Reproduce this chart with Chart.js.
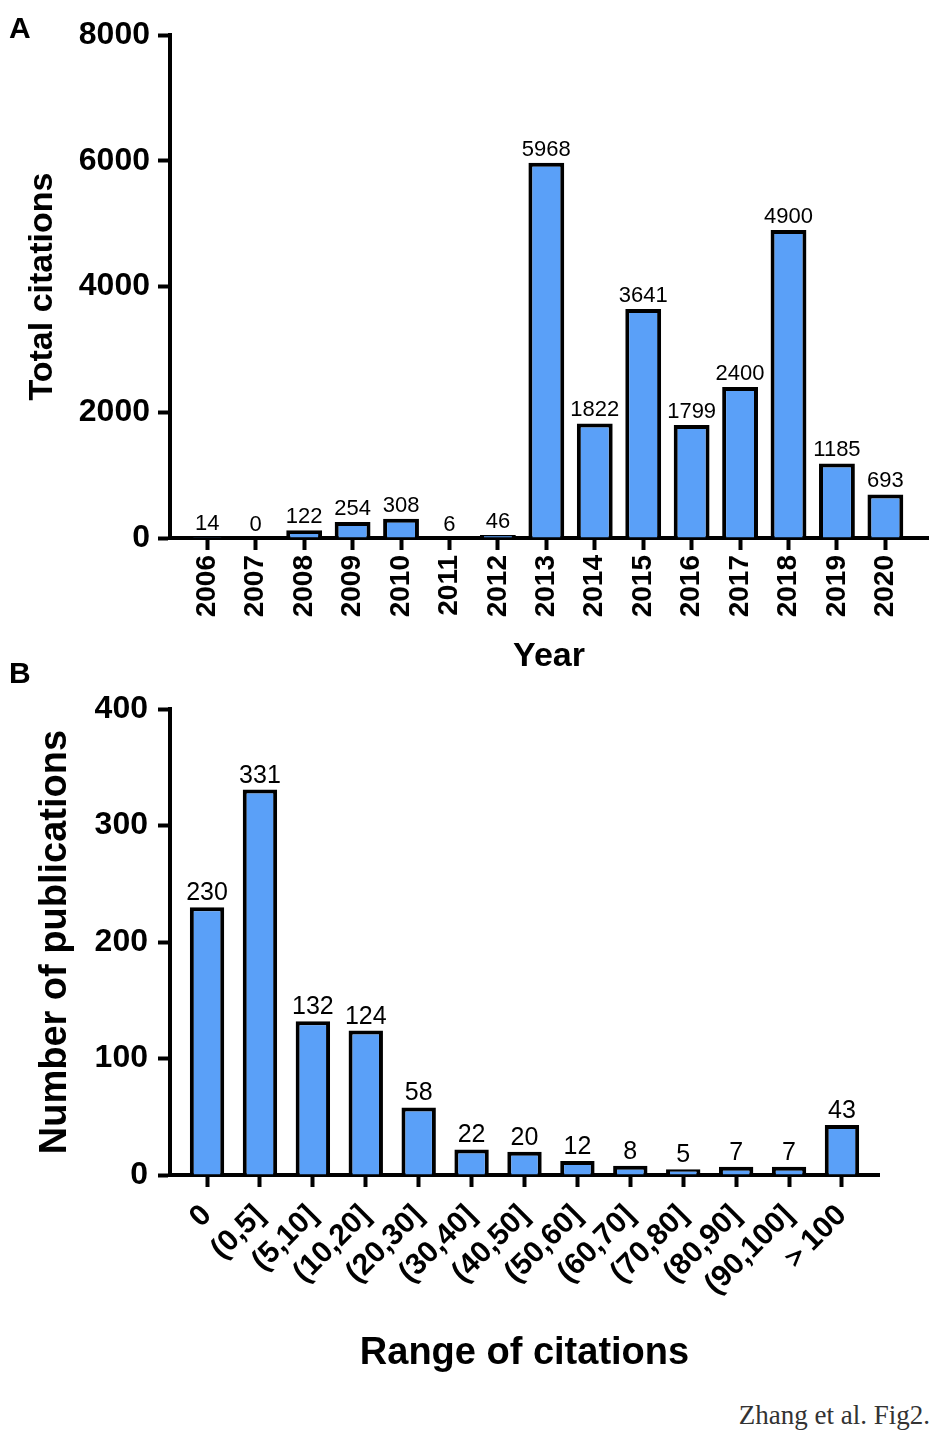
<!DOCTYPE html>
<html>
<head>
<meta charset="utf-8">
<script src="https://cdn.jsdelivr.net/npm/chart.js@4.4.1/dist/chart.umd.min.js"></script>
<style>
  body { margin: 0; background: #fff; }
  #pagina { position: relative; width: 945px; height: 1435px; overflow: hidden; font-family: 'Liberation Sans', Arial, sans-serif; }
  .painel { position: absolute; left: 0; width: 945px; }
  #caixaA { top: 0; height: 690px; }
  #caixaB { top: 680px; height: 700px; }
  .letra { position: absolute; left: 9px; font-weight: bold; font-size: 30px; line-height: 1; color: #000; }
  #rodape { position: absolute; right: 15px; top: 1402px; font-family: 'Liberation Serif', 'Times New Roman', serif; font-size: 27px; line-height: 1; color: #333; }
</style>
</head>
<body>
<div id="pagina">
  <div class="painel" id="caixaA"><canvas id="graficoCitacoesAno"></canvas></div>
  <div class="painel" id="caixaB"><canvas id="graficoFaixaCitacoes"></canvas></div>
  <div class="letra" style="top:13px">A</div>
  <div class="letra" style="top:658px">B</div>
  <div id="rodape">Zhang et al. Fig2.</div>
</div>
<script>
// DADOS
const anos = [2006, 2007, 2008, 2009, 2010, 2011, 2012, 2013, 2014, 2015, 2016, 2017, 2018, 2019, 2020];
const citacoesTotais = [14, 0, 122, 254, 308, 6, 46, 5968, 1822, 3641, 1799, 2400, 4900, 1185, 693];

const faixasCitacoes = ['0', '(0,5]', '(5,10]', '(10,20]', '(20,30]', '(30,40]', '(40,50]',
    '(50,60]', '(60,70]', '(70,80]', '(80,90]', '(90,100]', '＞100'];
const numeroPublicacoes = [230, 331, 132, 124, 58, 22, 20, 12, 8, 5, 7, 7, 43];

const ticksCitacoes = [0, 2000, 4000, 6000, 8000];
const ticksPublicacoes = [0, 100, 200, 300, 400];

// CONFIGURACOES GERAIS
const FONTE = "'Liberation Sans', Arial, sans-serif";
const AZUL = '#5AA0F8';
Chart.defaults.color = '#000';
Chart.defaults.font.family = FONTE;

// escreve o valor em cima de cada barra
const rotulosValores = {
    id: 'rotulosValores',
    afterDatasetsDraw(chart, args, opts) {
        const ctx = chart.ctx;
        const meta = chart.getDatasetMeta(0);
        const dados = chart.data.datasets[0].data;
        ctx.save();
        ctx.font = opts.fonte;
        ctx.fillStyle = '#000';
        ctx.textAlign = 'center';
        ctx.textBaseline = 'alphabetic';
        meta.data.forEach(function (barra, i) {
            ctx.fillText(String(dados[i].y), barra.x, barra.y - opts.distancia);
        });
        ctx.restore();
    }
};

function eixoPreto(extra) {
    return Object.assign({
        offset: false,
        border: { display: true, color: '#000', width: 4 },
        grid: { offset: false, drawOnChartArea: false, drawTicks: true, tickLength: 12, tickWidth: 4, tickColor: '#000' }
    }, extra);
}

// GRAFICO A
function montarGraficoCitacoesPorAno() {
    const ctx = document.getElementById('graficoCitacoesAno').getContext('2d');
    new Chart(ctx, {
        type: 'bar',
        data: {
            datasets: [{
                data: anos.map((a, i) => ({ x: a, y: citacoesTotais[i] })),
                backgroundColor: AZUL,
                borderColor: '#000',
                borderWidth: 4,
                borderSkipped: 'start',
                barPercentage: 0.74,
                categoryPercentage: 1
            }]
        },
        plugins: [rotulosValores],
        options: {
            responsive: true,
            maintainAspectRatio: false,
            animation: false,
            layout: { padding: { top: 35, right: 17, left: 0, bottom: 0 } },
            plugins: {
                legend: { display: false },
                tooltip: { enabled: false },
                rotulosValores: { fonte: '22px ' + FONTE, distancia: 7 }
            },
            scales: {
                x: eixoPreto({
                    type: 'linear',
                    min: anos[0] - 0.77,
                    max: anos[anos.length - 1] + 0.88,
                    afterBuildTicks: (s) => { s.ticks = anos.map(v => ({ value: v })); },
                    afterFit: (s) => { s.height = 152; },
                    ticks: {
                        autoSkip: false, minRotation: 90, maxRotation: 90, padding: 5,
                        font: { size: 28, weight: 'bold' },
                        callback: (v) => String(v)
                    },
                    title: { display: true, text: 'Year', font: { size: 34, weight: 'bold' }, padding: { top: 0, bottom: 13 } }
                }),
                y: eixoPreto({
                    min: 0,
                    max: 8000,
                    afterBuildTicks: (s) => { s.ticks = ticksCitacoes.map(v => ({ value: v })); },
                    afterFit: (s) => { s.width = 170; },
                    ticks: { padding: 8, font: { size: 32, weight: 'bold' }, callback: (v) => String(v) },
                    title: { display: true, text: 'Total citations', font: { size: 34, weight: 'bold' }, padding: { top: 22, bottom: 0 } }
                })
            }
        }
    });
}

// GRAFICO B
function montarGraficoPublicacoesPorFaixa() {
    const ctx = document.getElementById('graficoFaixaCitacoes').getContext('2d');
    new Chart(ctx, {
        type: 'bar',
        data: {
            datasets: [{
                data: numeroPublicacoes.map((n, i) => ({ x: i, y: n })),
                backgroundColor: AZUL,
                borderColor: '#000',
                borderWidth: 4,
                borderSkipped: 'start',
                barPercentage: 0.65,
                categoryPercentage: 1
            }]
        },
        plugins: [rotulosValores],
        options: {
            responsive: true,
            maintainAspectRatio: false,
            animation: false,
            layout: { padding: { top: 23, right: 66, left: 0, bottom: 0 } },
            plugins: {
                legend: { display: false },
                tooltip: { enabled: false },
                rotulosValores: { fonte: '25px ' + FONTE, distancia: 7 }
            },
            scales: {
                x: eixoPreto({
                    type: 'linear',
                    min: -0.70,
                    max: faixasCitacoes.length - 1 + 0.70,
                    afterBuildTicks: (s) => { s.ticks = faixasCitacoes.map((f, i) => ({ value: i })); },
                    afterFit: (s) => { s.height = 205; },
                    ticks: {
                        autoSkip: false, minRotation: 45, maxRotation: 45, padding: 11,
                        font: { size: 30, weight: 'bold' },
                        callback: (v) => faixasCitacoes[v]
                    },
                    title: { display: true, text: 'Range of citations', font: { size: 38, weight: 'bold' }, padding: { top: 0, bottom: 4 } }
                }),
                y: eixoPreto({
                    min: 0,
                    max: 400,
                    afterBuildTicks: (s) => { s.ticks = ticksPublicacoes.map(v => ({ value: v })); },
                    afterFit: (s) => { s.width = 170; },
                    ticks: { padding: 10, font: { size: 32, weight: 'bold' }, callback: (v) => String(v) },
                    title: { display: true, text: 'Number of publications', font: { size: 38, weight: 'bold' }, padding: { top: 33, bottom: 0 } }
                })
            }
        }
    });
}

montarGraficoCitacoesPorAno();
montarGraficoPublicacoesPorFaixa();
</script>
</body>
</html>
